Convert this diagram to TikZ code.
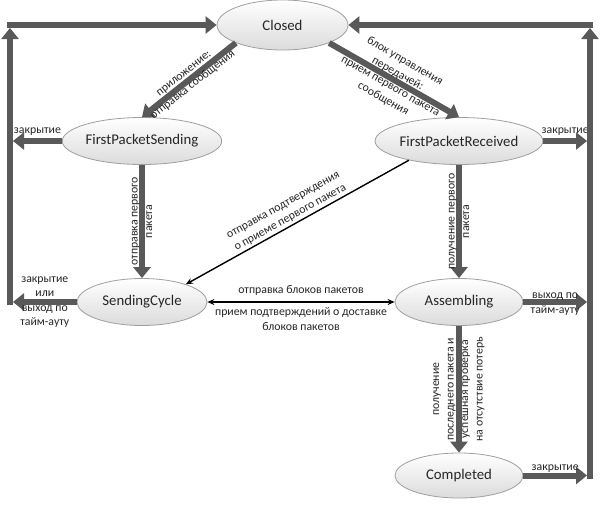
\documentclass[tikz,border=0pt]{standalone}
\usepackage{fontspec}
\setmainfont{Carlito}
\usetikzlibrary{arrows.meta,shapes.geometric}
\definecolor{darkarrow}{HTML}{595959}
\definecolor{txt}{HTML}{262626}
\begin{document}
\begin{tikzpicture}[x=1pt,y=-1pt,
  state/.style={ellipse, draw=gray!75, line width=0.8pt, top color=white, bottom color=gray!28,
    minimum width=130pt, minimum height=47pt, inner sep=0pt, font=\fontsize{14.8}{16}\selectfont, text=txt},
  big/.style={draw=darkarrow, line width=6pt, -{Triangle[width=17pt,length=11pt]}},
  thinarr/.style={draw=black, line width=1.4pt, -{Stealth[length=7pt,width=6pt]}},
  lbl/.style={font=\fontsize{11.8}{14.5}\selectfont, align=center, text=txt, inner sep=1pt},
]
\fill[white] (0,0) rectangle (600,504);
\useasboundingbox (0,0) rectangle (600,504);

\node[state, minimum width=131pt, minimum height=50pt] (Closed) at (282.5,25) {Closed};
\node[state] (FPS) at (142,141) {FirstPacketSending};
\node[state, minimum width=128pt] (FPR) at (459,141) {FirstPacketReceived};
\node[state] (SC) at (142,302) {SendingCycle};
\node[state, minimum width=128pt] (ASM) at (459,302) {Assembling};
\node[state, minimum width=128pt, minimum height=45pt] (CMP) at (459,475.5) {Completed};

% coordinates for the outer loops
\coordinate (lA) at (13,141);
\coordinate (lB) at (13,302);
\coordinate (lBot) at (10,305);
\coordinate (lTop) at (10,28);
\coordinate (lCorner) at (7,25);
\coordinate (rA) at (587,141);
\coordinate (rB) at (587,302);
\coordinate (rC) at (587,475.5);
\coordinate (rBot) at (590,478.5);
\coordinate (rTop) at (590,28);
\coordinate (rCorner) at (593,25);

% main transitions
\draw[big] (Closed.201) -- (FPS.north)
  node[midway, sloped, lbl] {приложение:\\отправка сообщения};
\draw[big] (Closed.339) -- (FPR.north)
  node[midway, sloped, lbl] {блок управления\\передачей:\\прием первого пакета\\сообщения};
\draw[big] (FPS.south) -- (SC.north)
  node[midway, rotate=90, lbl] {отправка первого\\пакета};
\draw[big] (FPR.south) -- (ASM.north)
  node[midway, rotate=90, lbl] {получение первого\\пакета};
\draw[big] (ASM.south) -- (CMP.north)
  node[midway, rotate=90, lbl] {получение\\последнего пакета и\\успешная проверка\\на отсутствие потерь};

% thin transitions
\draw[thinarr] (FPR.201) -- (SC.22)
  node[midway, sloped, above, lbl, yshift=1pt, xshift=-4pt] {отправка подтверждения\\о приеме первого пакета};
\draw[thinarr, {Stealth[length=7pt,width=6pt]}-{Stealth[length=7pt,width=6pt]}] (SC.east) -- (ASM.west)
  node[midway, above, lbl, yshift=5pt] {отправка блоков пакетов}
  node[midway, below, lbl, yshift=-4pt] {прием подтверждений о доставке\\блоков пакетов};

% left side exits
\draw[big] (FPS.west) -- (lA) node[midway, above, lbl, yshift=2pt] {закрытие};
\draw[big] (SC.west) -- (lB) node[midway, lbl] {закрытие\\или\\выход по\\тайм-ауту};
\draw[big] (lBot) -- (lTop);
\draw[big] (lCorner) -- (Closed.west);

% right side exits
\draw[big] (FPR.east) -- (rA) node[midway, above, lbl, yshift=2pt] {закрытие};
\draw[big] (ASM.east) -- (rB) node[midway, lbl, yshift=-2pt] {выход по\\тайм-ауту};
\draw[big] (CMP.east) -- (rC) node[midway, above, lbl, yshift=-1pt] {закрытие};
\draw[big] (rBot) -- (rTop);
\draw[big] (rCorner) -- (Closed.east);
\end{tikzpicture}
\end{document}
